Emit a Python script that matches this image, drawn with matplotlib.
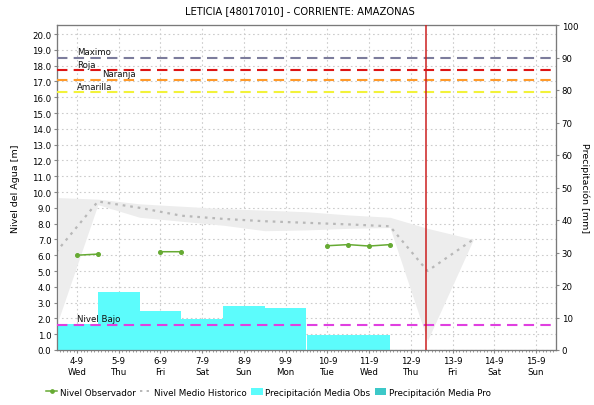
import matplotlib
matplotlib.use("Agg")
import matplotlib.pyplot as plt
import numpy as np
from matplotlib.lines import Line2D
from matplotlib.patches import Patch
from matplotlib.ticker import MultipleLocator

# ---- data ----
dates = ['4-9', '5-9', '6-9', '7-9', '8-9', '9-9', '10-9', '11-9', '12-9', '13-9', '14-9', '15-9']
weekdays = ['Wed', 'Thu', 'Fri', 'Sat', 'Sun', 'Mon', 'Tue', 'Wed', 'Thu', 'Fri', 'Sat', 'Sun']

# precipitation (mm), one bar per day
precip_x = [0, 1, 2, 3, 4, 5, 6, 7]
precip_obs = [8.0, 18.0, 11.9, 9.5, 13.4, 12.8, 4.6, 4.6]

# observed level (m), every half day, gaps as None
obs_x = [0, 0.5, 1, 1.5, 2, 2.5, 3, 3.5, 4, 4.5, 5, 5.5, 6, 6.5, 7, 7.5]
obs_y = [6.0, 6.07, None, None, 6.22, 6.22, None, None, None, None, None, None, 6.6, 6.67, 6.58, 6.67]

# historic mean level with band (m)
hist_x = [-0.5, 0.5, 1.5, 2.5, 3.5, 4.5, 5.5, 6.5, 7.5, 8.4, 9.5]
hist_mean = [6.2, 9.4, 9.0, 8.5, 8.3, 8.15, 8.05, 7.95, 7.83, 5.0, 7.0]
hist_upper = [9.65, 9.55, 9.25, 9.1, 8.95, 8.85, 8.75, 8.55, 8.4, 7.7, 7.0]
hist_lower = [1.5, 9.2, 8.4, 8.15, 7.9, 7.55, 7.6, 7.7, 7.75, 0.6, 7.0]

# threshold levels (m)
threshold_names = ['Maximo', 'Roja', 'Naranja', 'Amarilla', 'Nivel Bajo']
threshold_values = [18.5, 17.7, 17.1, 16.3, 1.6]
threshold_colors = ['#7c7c9c', '#dd1515', '#ff9a2a', '#f2f23a', '#e040e0']
threshold_label_x = [0, 0, 0.6, 0, 0]

now_x = 8.37

title = 'LETICIA [48017010] - CORRIENTE: AMAZONAS'

# ---- figure ----
plt.rcParams['font.family'] = ['DejaVu Sans']
fig = plt.figure(figsize=(5.94, 4.06), dpi=100)
rect = [57/594, 55/406, (556-57)/594, (351-26)/406]

ax = fig.add_axes(rect)          # grid + left axis
ax2 = ax.twinx()                 # bars, right axis
ax3 = ax.twinx()                 # lines on top (left scale)

ymax = 20.57
xlim = (-0.48, 11.48)
for a in (ax, ax3):
    a.set_ylim(0, ymax)
    a.set_xlim(*xlim)
ax2.set_ylim(0, 100)

grid_col = '#cccccc'
ax.set_yticks(np.arange(0, 21, 1))
ax.set_yticklabels([f'{v:.1f}' for v in np.arange(0, 21, 1)], fontsize=6.2)
ax.set_xticks(range(len(dates)))
ax.set_xticklabels([f'{d}\n{w}' for d, w in zip(dates, weekdays)], fontsize=6.2, linespacing=1.3)
ax.xaxis.set_minor_locator(MultipleLocator(1/12))
ax.tick_params(axis='x', which='minor', length=1.5, color='#888888')
ax.tick_params(axis='x', which='major', length=2, color='#888888', pad=2)
ax.tick_params(axis='y', length=2.5, color='#888888', pad=1.5)
ax.grid(True, which='major', color=grid_col, linestyle=(0, (1.5, 2.5)), linewidth=0.8)
ax.set_axisbelow(True)
ax.set_ylabel('Nivel del Agua [m]', fontsize=6.8, labelpad=9)

ax2.bar(precip_x, precip_obs, width=1.0, color='#5cfcfc', edgecolor='none', zorder=2)
ax2.set_yticks(np.arange(0, 101, 10))
ax2.set_yticklabels([str(v) for v in range(0, 101, 10)], fontsize=6.2)
ax2.tick_params(axis='y', length=2.5, color='#888888', pad=1.5)
ax2.set_ylabel('Precipitación [mm]', fontsize=6.8, rotation=270, labelpad=8)

ax3.set_yticks([])
ax3.fill_between(hist_x, hist_lower, hist_upper, color='#ededed', linewidth=0, zorder=1)
ax3.plot(hist_x, hist_mean, color='#b8b8b8', linestyle=(0, (1.2, 2.2)), linewidth=1.6, zorder=2)

for name, val, col, lx in zip(threshold_names, threshold_values, threshold_colors, threshold_label_x):
    ax3.axhline(val, color=col, linestyle=(0, (5, 3)), linewidth=1.5, zorder=3)
    ax3.text(lx, val + 0.1, name, fontsize=6.2, color='#111111', ha='left', va='bottom', zorder=4)

oy = np.array([np.nan if v is None else v for v in obs_y], dtype=float)
ax3.plot(obs_x, oy, color='#66aa33', linewidth=1.1, marker='o', markersize=2.6, zorder=5)

ax3.axvline(now_x, color='#cc2020', linewidth=1.1, zorder=6)

for a in (ax, ax2, ax3):
    for s in a.spines.values():
        s.set_color('#7a7a7a')
        s.set_linewidth(0.8)

fig.suptitle(title, fontsize=7.2, y=0.985, x=0.505)

handles = [
    Line2D([0], [0], color='#66aa33', linewidth=1.1, marker='o', markersize=2.4),
    Line2D([0], [0], color='#b8b8b8', linestyle=(0, (1.2, 2.2)), linewidth=1.4),
    Patch(facecolor='#5cfcfc', edgecolor='none'),
    Patch(facecolor='#3cc8c8', edgecolor='none'),
]
labels = ['Nivel Observador', 'Nivel Medio Historico', 'Precipitación Media Obs', 'Precipitación Media Pro']
fig.legend(handles, labels, loc='center', bbox_to_anchor=(0.452, 0.032), ncol=4, frameon=False,
           fontsize=6.3, handlelength=1.3, handletextpad=0.3, columnspacing=0.5, handleheight=0.9,
           borderpad=0.2)

fig.savefig('out.png', dpi=100)
